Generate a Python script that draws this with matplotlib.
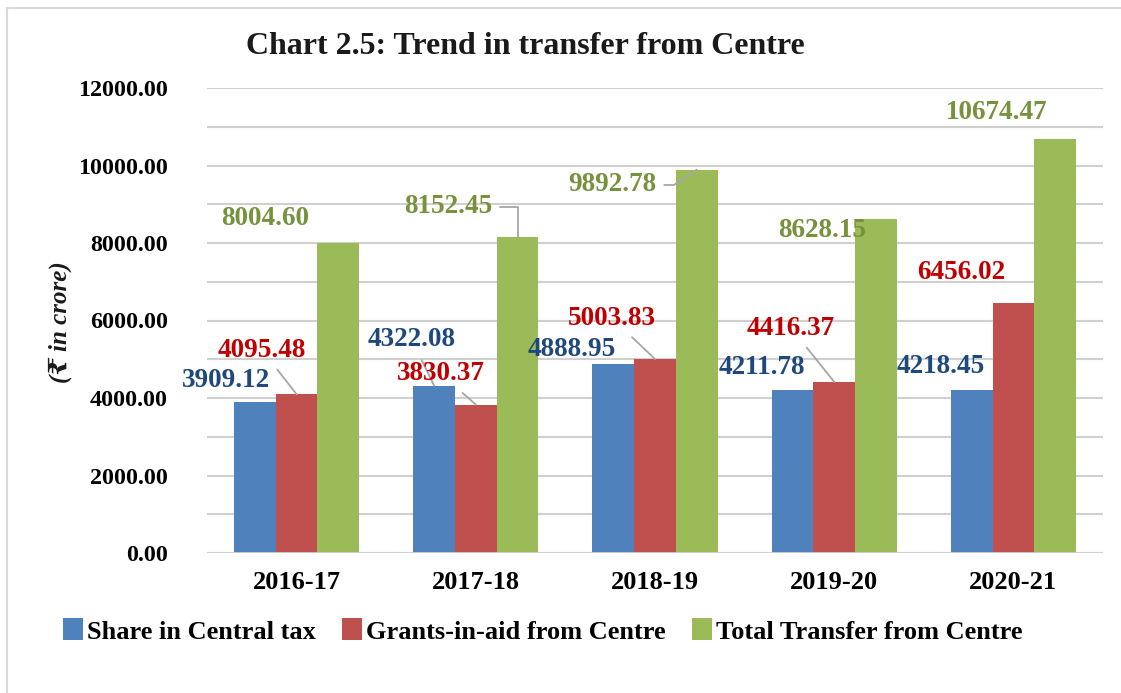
import matplotlib
matplotlib.use("Agg")
import matplotlib.pyplot as plt
from matplotlib.lines import Line2D
from matplotlib.patches import Patch
import numpy as np

years = ["2016-17", "2017-18", "2018-19", "2019-20", "2020-21"]
share_tax = [3909.12, 4322.08, 4888.95, 4211.78, 4218.45]
grants = [4095.48, 3830.37, 5003.83, 4416.37, 6456.02]
total = [8004.60, 8152.45, 9892.78, 8628.15, 10674.47]

series_names = ["Share in Central tax", "Grants-in-aid from Centre",
                "Total Transfer from Centre"]
bar_colors = ["#4f81bd", "#c0504d", "#9bbb59"]
label_colors = ["#1f497d", "#c00000", "#76923c"]

# label placement relative to bar top (dx in category units, dy in crore)
label_dx = [[-0.161, -0.123, -0.230, -0.170, -0.171],
            [-0.193, -0.194, -0.240, -0.241, -0.292],
            [-0.409, -0.388, -0.473, -0.301, -0.325]]
label_dy = [[555, 1175, 350, 588, 582],
            [1143, 789, 1060, 1390, 770],
            [640, 777, -396, -293, 681]]
# leader line style per label: None, "line", "elbow", "bent"
leaders = [[None, "line", None, None, None],
           ["line", "line", "line", "line", None],
           [None, "elbow", "bent", None, None]]

font = ["Liberation Serif", "DejaVu Serif"]
plt.rcParams["font.family"] = font
plt.rcParams["font.weight"] = "bold"

fig = plt.figure(figsize=(11.21, 6.93), dpi=100)
ax = fig.add_axes([207 / 1121, 140 / 693, 896 / 1121, 465 / 693])

x = np.arange(len(years))
w = 0.233
lbl_size = 19.5
all_series = [share_tax, grants, total]
for i, vals in enumerate(all_series):
    xs = x + (i - 1) * w
    ax.bar(xs, vals, width=w, color=bar_colors[i], zorder=2)
    for j, v in enumerate(vals):
        tx = xs[j] + label_dx[i][j]
        ty = v + label_dy[i][j]
        style = leaders[i][j]
        if style is None:
            ax.text(tx, ty, f"{v:.2f}", ha="center", va="center",
                    fontsize=lbl_size, fontweight="bold",
                    color=label_colors[i], zorder=4)
        else:
            cs = {"line": "arc3,rad=0",
                  "elbow": "angle,angleA=0,angleB=90,rad=0",
                  "bent": "angle,angleA=0,angleB=34,rad=0"}[style]
            ax.annotate(f"{v:.2f}", xy=(xs[j], v), xytext=(tx, ty),
                        ha="center", va="center", fontsize=lbl_size,
                        fontweight="bold", color=label_colors[i], zorder=4,
                        arrowprops=dict(arrowstyle="-", color="#a6a6a6",
                                        lw=1.3, shrinkA=4, shrinkB=0,
                                        connectionstyle=cs))

ax.set_xlim(-0.5, 4.5)
ax.set_ylim(0, 12000)
ax.set_yticks(np.arange(0, 12001, 2000))
ax.set_yticks(np.arange(0, 12001, 1000), minor=True)
ax.set_yticklabels([f"{t:.2f}" for t in np.arange(0, 12001, 2000)])
ax.set_xticks(x)
ax.set_xticklabels(years)
ax.tick_params(axis="y", which="both", length=0, labelsize=17.3, pad=28)
ax.tick_params(axis="x", length=0, labelsize=19, pad=13)
ax.grid(axis="y", which="both", color="#d0d0d0", lw=1.5, zorder=0)
for s in ax.spines.values():
    s.set_visible(False)
ax.axhline(0, color="#d0d0d0", lw=2, zorder=3)

fig.text(525 / 1121, 1 - 47 / 693, "Chart 2.5: Trend in transfer from Centre",
         ha="center", va="center", fontsize=23, fontweight="bold",
         color="#1a1a1a")
fig.text(60 / 1121, 1 - 322 / 693, "(₹ in crore)", rotation=90,
         ha="center", va="center", fontsize=18, fontweight="bold",
         fontstyle="italic", color="#1a1a1a")

handles = [Patch(facecolor=c) for c in bar_colors]
fig.legend(handles, series_names, loc="center", ncol=3, frameon=False,
           bbox_to_anchor=(543 / 1121, 1 - 631 / 693), fontsize=19,
           handlelength=0.75, handleheight=0.9, handletextpad=0.15,
           columnspacing=1.0)

# outer frame (top and left edges visible in the reference)
fig.add_artist(Line2D([7 / 1121, 7 / 1121], [0, 1 - 8 / 693],
                      transform=fig.transFigure, color="#d9d9d9", lw=1.5))
fig.add_artist(Line2D([7 / 1121, 1], [1 - 8 / 693, 1 - 8 / 693],
                      transform=fig.transFigure, color="#d9d9d9", lw=1.5))

fig.savefig("out.png", dpi=100)
